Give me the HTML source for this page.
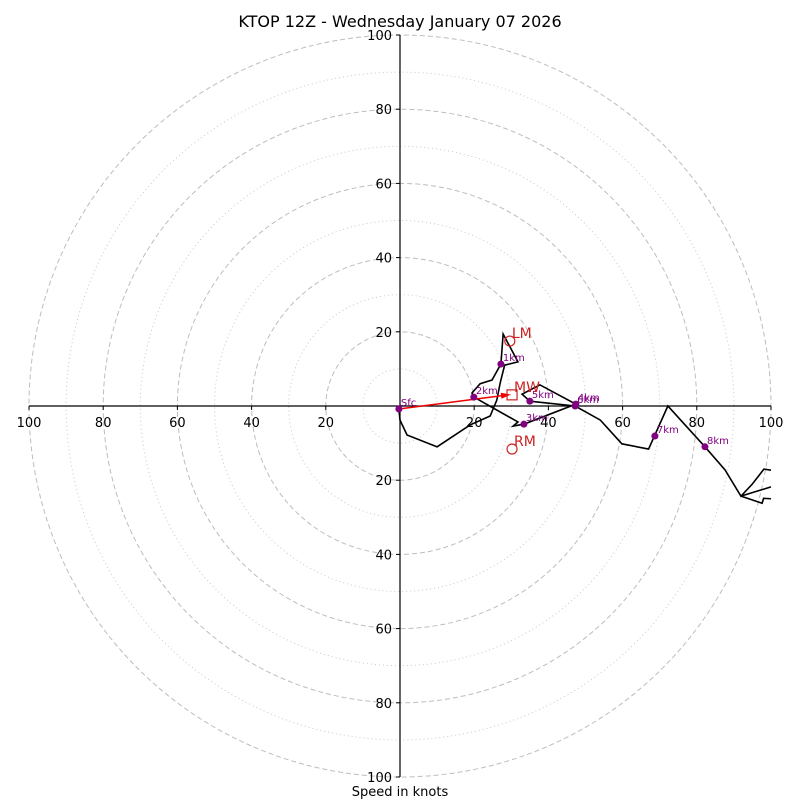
<!DOCTYPE html>
<html><head><meta charset="utf-8"><style>
html,body{margin:0;padding:0;background:#fff;}
svg{display:block;font-family:"DejaVu Sans","Liberation Sans",sans-serif;}
</style></head><body>
<svg id="chart" width="800" height="800" viewBox="0 0 800 800">
<text x="400" y="27" text-anchor="middle" font-size="16">KTOP 12Z - Wednesday January 07 2026</text>
<text x="400" y="796" text-anchor="middle" font-size="13">Speed in knots</text>
</svg>
<script>
const ringMajor = [20, 40, 60, 80, 100];
const ringMinor = [10, 30, 50, 70, 90];
const tickLabels = ["20", "40", "60", "80", "100"];
// hodograph wind components (u, v) in knots
const hodoU = [-0.3,0,1.9,10,18.9,24.3,26.1,27,28.2,31.8,27.8,27.2,24.8,21.6,19.4,19.9,31.8,30.5,33.4,47.4,37.7,32.9,35,47.2,54,59.8,67,72.2,82.2,87.6,91.9,95,98.1,100];
const hodoV = [-0.8,-3.8,-7.8,-11,-5.1,-2.7,1.6,6.2,11,11.9,19.4,11.3,7,6,3.5,2.4,-4.3,-5.4,-4.9,0.5,5.7,3.2,1.3,0,-3.8,-10.2,-11.6,0,-11,-17.2,-24.3,-21,-17,-17.3];
const branchU = [91.9,100];
const branchV = [-24.3,-21.8];
const branch2U = [91.9,97.6,98,100];
const branch2V = [-24.3,-26.2,-24.9,-25];
const markerLabels = ["Sfc","1km","2km","3km","4km","5km","6km","7km","8km"];
const markerU = [-0.3,27.2,19.9,33.4,47.4,35,47.2,68.7,82.2];
const markerV = [-0.8,11.3,2.4,-4.9,0.5,1.3,0,-8.1,-11];
const motionLabels = ["LM","MW","RM"];
const motionU = [29.6,30.2,30.2];
const motionV = [17.5,3,-11.6];

const svg = document.getElementById('chart');
const NS = 'http://www.w3.org/2000/svg';
const cx = 400, cy = 406, R = 371;
const sx = u => cx + u / 100 * R;
const sy = v => cy - v / 100 * R;
const sr = s => s / 100 * R;
function mk(tag, attrs) { const e = document.createElementNS(NS, tag); for (const k in attrs) e.setAttribute(k, attrs[k]); svg.appendChild(e); return e; }

ringMinor.forEach(r => {
  const c = mk('circle', {cx, cy, r: sr(r), fill: 'none', stroke: '#c8c8c8', 'stroke-width': 1, 'stroke-dasharray': '1,3'});
  
  
});
ringMajor.forEach(r => {
  const c = mk('circle', {cx, cy, r: sr(r), fill: 'none', stroke: '#bdbdbd', 'stroke-width': 1, 'stroke-dasharray': '5,3'});
  
  
});
const xa = mk('line', {x1: sx(-100), y1: cy, x2: sx(100), y2: cy, stroke: '#000', 'stroke-width': 1.2});


const ya = mk('line', {x1: cx, y1: sy(100), x2: cx, y2: sy(-100), stroke: '#000', 'stroke-width': 1.2});


ringMajor.forEach((r, i) => {
  [1, -1].forEach(s => {
    mk('line', {x1: sx(s * r), y1: cy, x2: sx(s * r), y2: cy + 4, stroke: '#000'});
    const t = mk('text', {x: sx(s * r), y: cy + 21, 'text-anchor': 'middle', 'font-size': 13});
    t.textContent = tickLabels[i];
    
    
    mk('line', {x1: cx - 4, y1: sy(s * r), x2: cx, y2: sy(s * r), stroke: '#000'});
    const t2 = mk('text', {x: cx - 8, y: sy(s * r) + 5, 'text-anchor': 'end', 'font-size': 13});
    t2.textContent = tickLabels[i];
    
    
  });
});
function poly(us, vs, name) {
  const p = mk('polyline', {points: us.map((u, i) => sx(u) + ',' + sy(vs[i])).join(' '), fill: 'none', stroke: '#000', 'stroke-width': 1.6, 'stroke-linejoin': 'miter'});
  
  
}
poly(hodoU, hodoV, 'hodograph-line');
poly(branchU, branchV, 'hodograph-branch');
poly(branch2U, branch2V, 'hodograph-branch');

// mean wind arrow
const ax1 = sx(markerU[0]), ay1 = sy(markerV[0]), ax2 = sx(motionU[1]) - 4, ay2 = sy(motionV[1]);
const arr = mk('line', {x1: ax1, y1: ay1, x2: ax2, y2: ay2, stroke: '#e00', 'stroke-width': 1.5});


const ang = Math.atan2(ay2 - ay1, ax2 - ax1);
const head = mk('polygon', {points: [ax2 + 3 * Math.cos(ang), ay2 + 3 * Math.sin(ang), ax2 - 7 * Math.cos(ang) - 3 * Math.sin(ang), ay2 - 7 * Math.sin(ang) + 3 * Math.cos(ang), ax2 - 7 * Math.cos(ang) + 3 * Math.sin(ang), ay2 - 7 * Math.sin(ang) - 3 * Math.cos(ang)].join(','), fill: '#e00'});



markerLabels.forEach((l, i) => {
  const c = mk('circle', {cx: sx(markerU[i]), cy: sy(markerV[i]), r: 3.5, fill: 'purple'});
  
  
  const t = mk('text', {x: sx(markerU[i]) + 2, y: sy(markerV[i]) - 3, 'font-size': 10, fill: 'purple'});
  t.textContent = l;
  
  
});

motionLabels.forEach((l, i) => {
  const x = sx(motionU[i]), y = sy(motionV[i]);
  const m = l === 'MW' ? mk('rect', {x: x - 5, y: y - 5, width: 10, height: 10, fill: 'none', stroke: '#c22', 'stroke-width': 1.2})
                      : mk('circle', {cx: x, cy: y, r: 5, fill: 'none', stroke: '#c22', 'stroke-width': 1.2});
  
  
  const t = mk('text', {x: x + 2, y: y - 3, 'font-size': 14, fill: '#c22'});
  t.textContent = l;
  
  
});
</script>
</body></html>
